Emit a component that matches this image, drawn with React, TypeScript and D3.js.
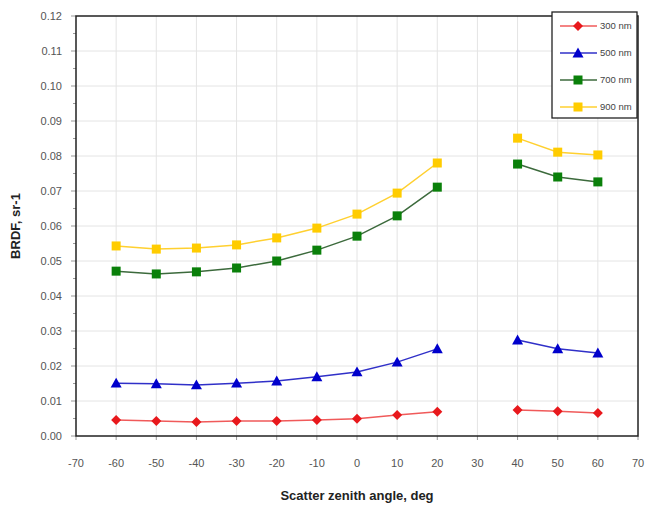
import React from "react";
import * as d3 from "d3";

const angles = [-60, -50, -40, -30, -20, -10, 0, 10, 20, 30, 40, 50, 60];
const brdf300 = [0.0046, 0.0043, 0.0040, 0.0043, 0.0043, 0.0046, 0.0049, 0.0060, 0.0069, null, 0.0074, 0.0071, 0.0066];
const brdf500 = [0.0151, 0.0149, 0.0146, 0.0151, 0.0157, 0.0169, 0.0183, 0.0211, 0.0249, null, 0.0274, 0.0249, 0.0237];
const brdf700 = [0.0471, 0.0463, 0.0469, 0.0480, 0.0500, 0.0531, 0.0571, 0.0629, 0.0711, null, 0.0777, 0.0740, 0.0726];
const brdf900 = [0.0543, 0.0534, 0.0537, 0.0546, 0.0566, 0.0594, 0.0634, 0.0694, 0.0780, null, 0.0851, 0.0811, 0.0803];

const seriesNames = ["300 nm", "500 nm", "700 nm", "900 nm"];
const xTicks = [-70, -60, -50, -40, -30, -20, -10, 0, 10, 20, 30, 40, 50, 60, 70];
const yTicks = [0, 0.01, 0.02, 0.03, 0.04, 0.05, 0.06, 0.07, 0.08, 0.09, 0.1, 0.11, 0.12];

const series = [
  { name: seriesNames[0], values: brdf300, color: "#e8181c", line: "#f05a5a", marker: "diamond" },
  { name: seriesNames[1], values: brdf500, color: "#0000cc", line: "#3030c8", marker: "triangle" },
  { name: seriesNames[2], values: brdf700, color: "#0a800a", line: "#3c6a3c", marker: "square" },
  { name: seriesNames[3], values: brdf900, color: "#ffcc00", line: "#ffd030", marker: "square" },
];

const W = 649, H = 510;
const L = 76, R = 638, T = 16, B = 436;

function Marker({ type, x, y, color }: { type: string; x: number; y: number; color: string }) {
  if (type === "diamond") {
    const s = 5;
    return <path d={`M${x},${y - s}L${x + s},${y}L${x},${y + s}L${x - s},${y}Z`} fill={color} />;
  }
  if (type === "triangle") {
    const s = 5.5;
    return <path d={`M${x},${y - s}L${x + s},${y + s * 0.8}L${x - s},${y + s * 0.8}Z`} fill={color} />;
  }
  const s = 4.5;
  return <rect x={x - s} y={y - s} width={2 * s} height={2 * s} fill={color} />;
}

export default function App() {
  const x = d3.scaleLinear().domain([-70, 70]).range([L, R]);
  const y = d3.scaleLinear().domain([0, 0.12]).range([B, T]);
  const line = d3
    .line<number | null>()
    .defined((d) => d != null)
    .x((_, i) => x(angles[i]))
    .y((d) => y(d as number));
  const yMinor = d3.range(0, 0.1201, 0.005);

  return (
    <svg width={W} height={H} style={{ position: "absolute", left: 0, top: 0, background: "#fff" }}
      fontFamily="'Liberation Sans', Arial, sans-serif">
      <rect x={0} y={0} width={W} height={H} fill="#fff" />
      {/* grid */}
      {xTicks.slice(1, -1).map((t) => (
        <line key={"gx" + t} x1={x(t)} x2={x(t)} y1={T} y2={B} stroke="#e4e4e4" strokeWidth={1} />
      ))}
      {yTicks.slice(1, -1).map((t) => (
        <line key={"gy" + t} x1={L} x2={R} y1={y(t)} y2={y(t)} stroke="#e4e4e4" strokeWidth={1} />
      ))}
      {/* ticks */}
      {yMinor.map((t, i) => (
        <line key={"ty" + i} x1={L - (i % 2 === 0 ? 5 : 3)} x2={L} y1={y(t)} y2={y(t)} stroke="#999" strokeWidth={1} />
      ))}
      {xTicks.map((t) => (
        <line key={"tx" + t} x1={x(t)} x2={x(t)} y1={B} y2={B + 4} stroke="#999" strokeWidth={1} />
      ))}
      {/* series */}
      {series.map((s) => (
        <g key={s.name}>
          <path d={line(s.values) || ""} fill="none" stroke={s.line} strokeWidth={1.5} />
          {s.values.map((v, i) =>
            v == null ? null : <Marker key={i} type={s.marker} x={x(angles[i])} y={y(v)} color={s.color} />
          )}
        </g>
      ))}
      {/* frame */}
      <rect x={L} y={T} width={R - L} height={B - T} fill="none" stroke="#222" strokeWidth={1.5} />
      {/* tick labels */}
      {yTicks.map((t) => (
        <text key={"ly" + t} x={L - 14} y={y(t)} dy="0.35em" textAnchor="end" fontSize={11} fill="#555">
          {t.toFixed(2)}
        </text>
      ))}
      {xTicks.map((t) => (
        <text key={"lx" + t} x={x(t)} y={B + 27} dy="0.35em" textAnchor="middle" fontSize={11} fill="#555">
          {t}
        </text>
      ))}
      {/* axis titles */}
      <text x={357} y={500} textAnchor="middle" fontSize={13} fontWeight="bold" fill="#222">
        Scatter zenith angle, deg
      </text>
      <text transform={`translate(20,${(T + B) / 2}) rotate(-90)`} textAnchor="middle" fontSize={13} fontWeight="bold" fill="#222">
        BRDF, sr-1
      </text>
      {/* legend */}
      <g>
        <rect x={552} y={12} width={85} height={106} fill="#fff" stroke="#222" strokeWidth={1.3} />
        {series.map((s, i) => {
          const ly = 26 + i * 27;
          return (
            <g key={"lg" + s.name}>
              <line x1={560} x2={597} y1={ly} y2={ly} stroke={s.line} strokeWidth={1.5} />
              <Marker type={s.marker} x={578} y={ly} color={s.color} />
              <text x={600} y={ly} dy="0.35em" fontSize={9.5} fill="#444">
                {s.name}
              </text>
            </g>
          );
        })}
      </g>
    </svg>
  );
}
